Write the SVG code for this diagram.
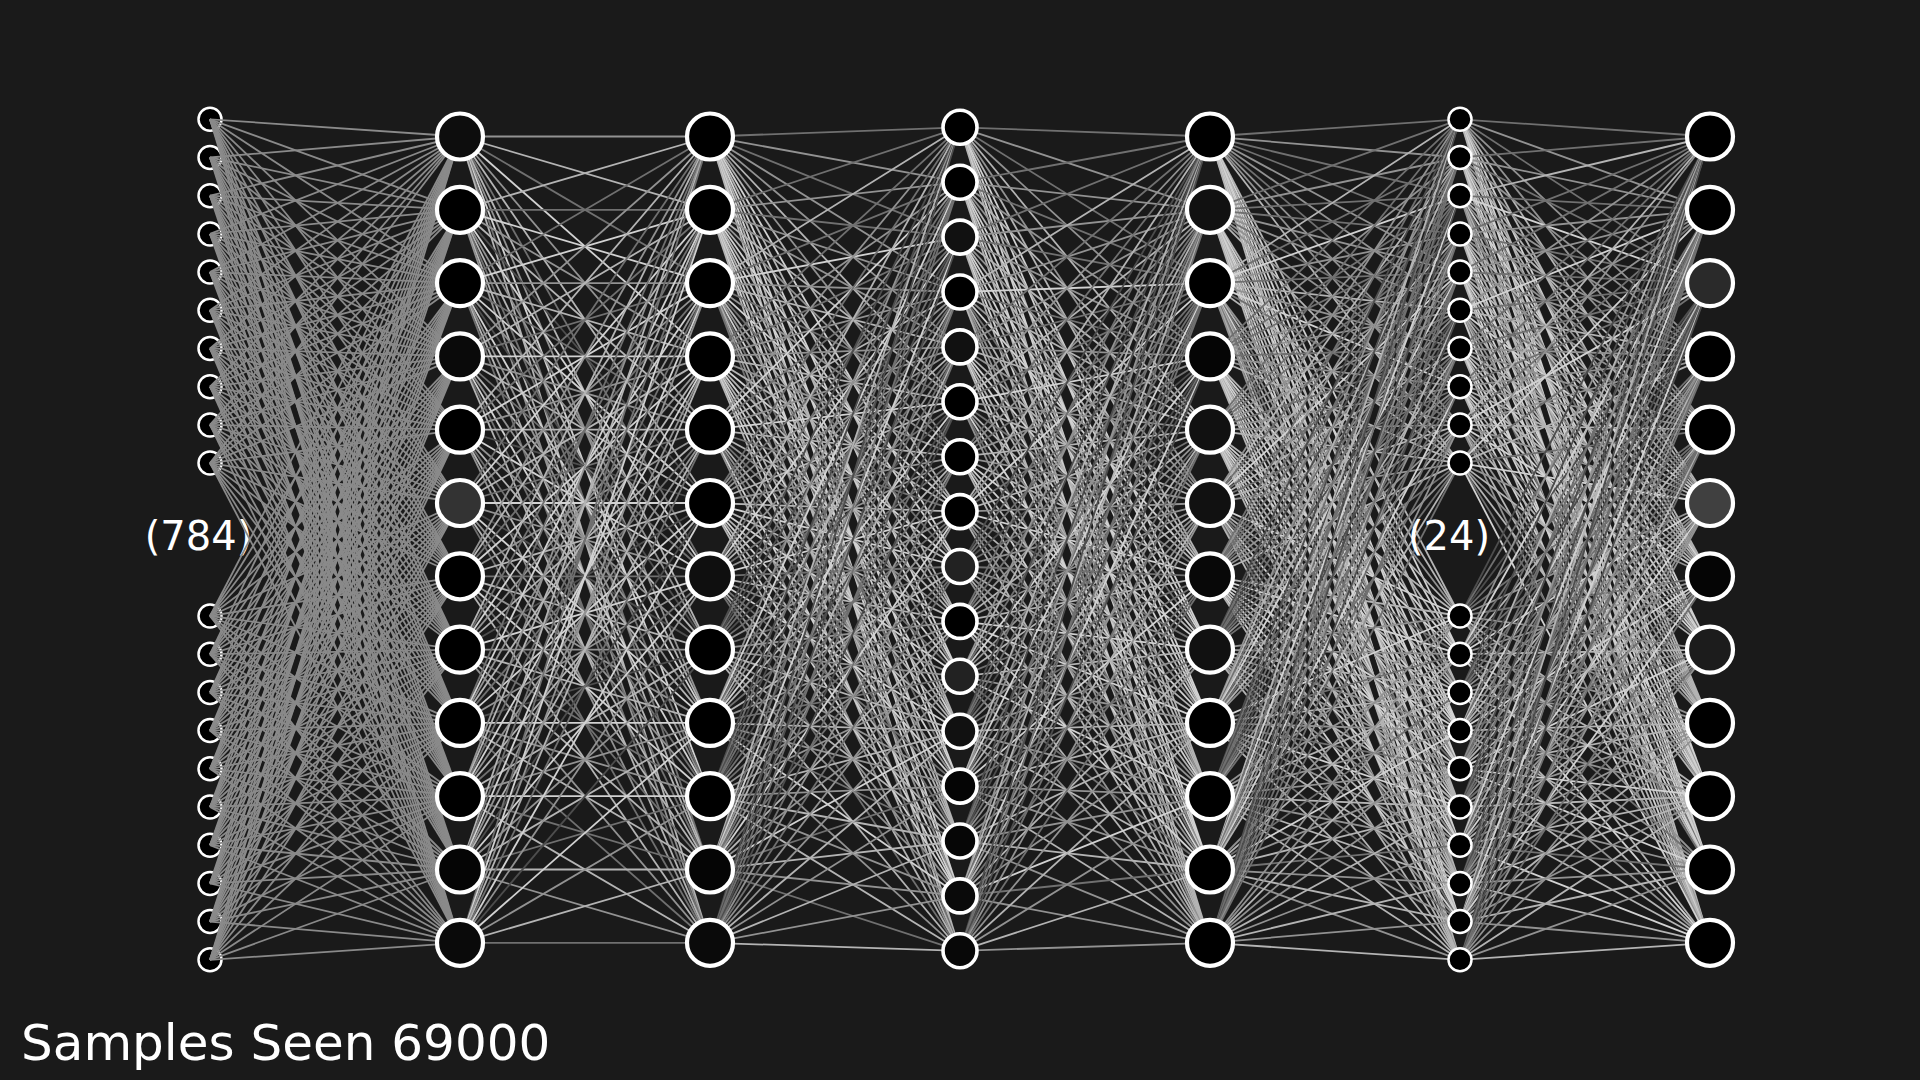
<svg xmlns="http://www.w3.org/2000/svg" width="1920" height="1080" viewBox="0 0 1920 1080">
<style>
line{vector-effect:non-scaling-stroke;stroke-width:1.8;fill:none}
.c0{stroke:#8a8a8a}.c1{stroke:#4d4d4d}.c2{stroke:#707070}.c3{stroke:#929292}.c4{stroke:#b4b4b4}.c5{stroke:#d2d2d2}
.s{stroke:#fff;stroke-width:2.5}
.m{stroke:#fff;stroke-width:3.6}
.b{stroke:#fff;stroke-width:4.2}
text{font-family:"DejaVu Sans","Liberation Sans",sans-serif;fill:#fff}
</style>
<defs>
<g id="f12" class="c0"><line x2="250" y2="136.5"/><line x2="250" y2="209.8"/><line x2="250" y2="283.1"/><line x2="250" y2="356.4"/><line x2="250" y2="429.7"/><line x2="250" y2="503"/><line x2="250" y2="576.3"/><line x2="250" y2="649.6"/><line x2="250" y2="722.9"/><line x2="250" y2="796.2"/><line x2="250" y2="869.5"/><line x2="250" y2="942.8"/></g>
<g id="f23a"><line class="c3" x2="250" y2="136.5"/><line class="c4" x2="250" y2="209.8"/><line class="c2" x2="250" y2="283.1"/><line class="c5" x2="250" y2="356.4"/><line class="c3" x2="250" y2="429.7"/><line class="c4" x2="250" y2="503"/><line class="c2" x2="250" y2="576.3"/><line class="c4" x2="250" y2="649.6"/><line class="c3" x2="250" y2="722.9"/><line class="c5" x2="250" y2="796.2"/><line class="c2" x2="250" y2="869.5"/><line class="c4" x2="250" y2="942.8"/></g>
<g id="f23b"><line class="c4" x2="250" y2="136.5"/><line class="c2" x2="250" y2="209.8"/><line class="c5" x2="250" y2="283.1"/><line class="c3" x2="250" y2="356.4"/><line class="c4" x2="250" y2="429.7"/><line class="c1" x2="250" y2="503"/><line class="c5" x2="250" y2="576.3"/><line class="c3" x2="250" y2="649.6"/><line class="c4" x2="250" y2="722.9"/><line class="c2" x2="250" y2="796.2"/><line class="c4" x2="250" y2="869.5"/><line class="c3" x2="250" y2="942.8"/></g>
<g id="f23c"><line class="c2" x2="250" y2="136.5"/><line class="c5" x2="250" y2="209.8"/><line class="c3" x2="250" y2="283.1"/><line class="c4" x2="250" y2="356.4"/><line class="c2" x2="250" y2="429.7"/><line class="c5" x2="250" y2="503"/><line class="c3" x2="250" y2="576.3"/><line class="c1" x2="250" y2="649.6"/><line class="c5" x2="250" y2="722.9"/><line class="c3" x2="250" y2="796.2"/><line class="c4" x2="250" y2="869.5"/><line class="c2" x2="250" y2="942.8"/></g>
<g id="f34a"><line class="c2" x2="250" y2="127.3"/><line class="c3" x2="250" y2="182.2"/><line class="c2" x2="250" y2="237.1"/><line class="c3" x2="250" y2="292"/><line class="c3" x2="250" y2="346.9"/><line class="c4" x2="250" y2="401.8"/><line class="c3" x2="250" y2="456.7"/><line class="c4" x2="250" y2="511.6"/><line class="c5" x2="250" y2="566.5"/><line class="c4" x2="250" y2="621.4"/><line class="c5" x2="250" y2="676.3"/><line class="c4" x2="250" y2="731.2"/><line class="c5" x2="250" y2="786.1"/><line class="c4" x2="250" y2="841"/><line class="c5" x2="250" y2="895.9"/><line class="c4" x2="250" y2="950.8"/></g>
<g id="f34b"><line class="c4" x2="250" y2="127.3"/><line class="c2" x2="250" y2="182.2"/><line class="c5" x2="250" y2="237.1"/><line class="c3" x2="250" y2="292"/><line class="c4" x2="250" y2="346.9"/><line class="c2" x2="250" y2="401.8"/><line class="c3" x2="250" y2="456.7"/><line class="c5" x2="250" y2="511.6"/><line class="c2" x2="250" y2="566.5"/><line class="c4" x2="250" y2="621.4"/><line class="c3" x2="250" y2="676.3"/><line class="c5" x2="250" y2="731.2"/><line class="c2" x2="250" y2="786.1"/><line class="c4" x2="250" y2="841"/><line class="c3" x2="250" y2="895.9"/><line class="c2" x2="250" y2="950.8"/></g>
<g id="f34c"><line class="c3" x2="250" y2="127.3"/><line class="c5" x2="250" y2="182.2"/><line class="c2" x2="250" y2="237.1"/><line class="c4" x2="250" y2="292"/><line class="c3" x2="250" y2="346.9"/><line class="c5" x2="250" y2="401.8"/><line class="c4" x2="250" y2="456.7"/><line class="c2" x2="250" y2="511.6"/><line class="c4" x2="250" y2="566.5"/><line class="c3" x2="250" y2="621.4"/><line class="c2" x2="250" y2="676.3"/><line class="c4" x2="250" y2="731.2"/><line class="c3" x2="250" y2="786.1"/><line class="c2" x2="250" y2="841"/><line class="c5" x2="250" y2="895.9"/><line class="c3" x2="250" y2="950.8"/></g>
<g id="f34d"><line class="c1" x2="250" y2="127.3"/><line class="c2" x2="250" y2="182.2"/><line class="c1" x2="250" y2="237.1"/><line class="c2" x2="250" y2="292"/><line class="c2" x2="250" y2="346.9"/><line class="c1" x2="250" y2="401.8"/><line class="c2" x2="250" y2="456.7"/><line class="c3" x2="250" y2="511.6"/><line class="c2" x2="250" y2="566.5"/><line class="c3" x2="250" y2="621.4"/><line class="c3" x2="250" y2="676.3"/><line class="c4" x2="250" y2="731.2"/><line class="c3" x2="250" y2="786.1"/><line class="c4" x2="250" y2="841"/><line class="c3" x2="250" y2="895.9"/><line class="c4" x2="250" y2="950.8"/></g>
<g id="f45a"><line class="c2" x2="250" y2="136.5"/><line class="c3" x2="250" y2="209.8"/><line class="c2" x2="250" y2="283.1"/><line class="c3" x2="250" y2="356.4"/><line class="c4" x2="250" y2="429.7"/><line class="c3" x2="250" y2="503"/><line class="c4" x2="250" y2="576.3"/><line class="c5" x2="250" y2="649.6"/><line class="c5" x2="250" y2="722.9"/><line class="c4" x2="250" y2="796.2"/><line class="c5" x2="250" y2="869.5"/><line class="c4" x2="250" y2="942.8"/></g>
<g id="f45b"><line class="c4" x2="250" y2="136.5"/><line class="c3" x2="250" y2="209.8"/><line class="c5" x2="250" y2="283.1"/><line class="c2" x2="250" y2="356.4"/><line class="c4" x2="250" y2="429.7"/><line class="c3" x2="250" y2="503"/><line class="c5" x2="250" y2="576.3"/><line class="c2" x2="250" y2="649.6"/><line class="c4" x2="250" y2="722.9"/><line class="c3" x2="250" y2="796.2"/><line class="c3" x2="250" y2="869.5"/><line class="c4" x2="250" y2="942.8"/></g>
<g id="f45c"><line class="c3" x2="250" y2="136.5"/><line class="c4" x2="250" y2="209.8"/><line class="c2" x2="250" y2="283.1"/><line class="c5" x2="250" y2="356.4"/><line class="c3" x2="250" y2="429.7"/><line class="c4" x2="250" y2="503"/><line class="c2" x2="250" y2="576.3"/><line class="c4" x2="250" y2="649.6"/><line class="c3" x2="250" y2="722.9"/><line class="c5" x2="250" y2="796.2"/><line class="c2" x2="250" y2="869.5"/><line class="c3" x2="250" y2="942.8"/></g>
<g id="f45d"><line class="c1" x2="250" y2="136.5"/><line class="c2" x2="250" y2="209.8"/><line class="c2" x2="250" y2="283.1"/><line class="c1" x2="250" y2="356.4"/><line class="c2" x2="250" y2="429.7"/><line class="c3" x2="250" y2="503"/><line class="c2" x2="250" y2="576.3"/><line class="c3" x2="250" y2="649.6"/><line class="c4" x2="250" y2="722.9"/><line class="c3" x2="250" y2="796.2"/><line class="c4" x2="250" y2="869.5"/><line class="c3" x2="250" y2="942.8"/></g>
<g id="f56a"><line class="c2" x2="250" y2="119.3"/><line class="c3" x2="250" y2="157.5"/><line class="c2" x2="250" y2="195.7"/><line class="c2" x2="250" y2="233.9"/><line class="c3" x2="250" y2="272.1"/><line class="c3" x2="250" y2="310.3"/><line class="c2" x2="250" y2="348.5"/><line class="c3" x2="250" y2="386.7"/><line class="c3" x2="250" y2="424.9"/><line class="c4" x2="250" y2="463.1"/><line class="c4" x2="250" y2="616"/><line class="c5" x2="250" y2="654.2"/><line class="c4" x2="250" y2="692.4"/><line class="c5" x2="250" y2="730.6"/><line class="c5" x2="250" y2="768.8"/><line class="c4" x2="250" y2="807"/><line class="c5" x2="250" y2="845.2"/><line class="c4" x2="250" y2="883.4"/><line class="c5" x2="250" y2="921.6"/><line class="c4" x2="250" y2="959.8"/></g>
<g id="f56b"><line class="c4" x2="250" y2="119.3"/><line class="c2" x2="250" y2="157.5"/><line class="c5" x2="250" y2="195.7"/><line class="c3" x2="250" y2="233.9"/><line class="c2" x2="250" y2="272.1"/><line class="c4" x2="250" y2="310.3"/><line class="c3" x2="250" y2="348.5"/><line class="c5" x2="250" y2="386.7"/><line class="c2" x2="250" y2="424.9"/><line class="c4" x2="250" y2="463.1"/><line class="c3" x2="250" y2="616"/><line class="c4" x2="250" y2="654.2"/><line class="c2" x2="250" y2="692.4"/><line class="c5" x2="250" y2="730.6"/><line class="c3" x2="250" y2="768.8"/><line class="c4" x2="250" y2="807"/><line class="c2" x2="250" y2="845.2"/><line class="c3" x2="250" y2="883.4"/><line class="c4" x2="250" y2="921.6"/><line class="c3" x2="250" y2="959.8"/></g>
<g id="f56c"><line class="c3" x2="250" y2="119.3"/><line class="c4" x2="250" y2="157.5"/><line class="c2" x2="250" y2="195.7"/><line class="c4" x2="250" y2="233.9"/><line class="c5" x2="250" y2="272.1"/><line class="c2" x2="250" y2="310.3"/><line class="c4" x2="250" y2="348.5"/><line class="c2" x2="250" y2="386.7"/><line class="c4" x2="250" y2="424.9"/><line class="c3" x2="250" y2="463.1"/><line class="c5" x2="250" y2="616"/><line class="c2" x2="250" y2="654.2"/><line class="c4" x2="250" y2="692.4"/><line class="c3" x2="250" y2="730.6"/><line class="c2" x2="250" y2="768.8"/><line class="c5" x2="250" y2="807"/><line class="c3" x2="250" y2="845.2"/><line class="c4" x2="250" y2="883.4"/><line class="c2" x2="250" y2="921.6"/><line class="c4" x2="250" y2="959.8"/></g>
<g id="f56d"><line class="c1" x2="250" y2="119.3"/><line class="c2" x2="250" y2="157.5"/><line class="c1" x2="250" y2="195.7"/><line class="c2" x2="250" y2="233.9"/><line class="c2" x2="250" y2="272.1"/><line class="c1" x2="250" y2="310.3"/><line class="c2" x2="250" y2="348.5"/><line class="c2" x2="250" y2="386.7"/><line class="c3" x2="250" y2="424.9"/><line class="c2" x2="250" y2="463.1"/><line class="c3" x2="250" y2="616"/><line class="c3" x2="250" y2="654.2"/><line class="c4" x2="250" y2="692.4"/><line class="c3" x2="250" y2="730.6"/><line class="c3" x2="250" y2="768.8"/><line class="c4" x2="250" y2="807"/><line class="c3" x2="250" y2="845.2"/><line class="c4" x2="250" y2="883.4"/><line class="c3" x2="250" y2="921.6"/><line class="c4" x2="250" y2="959.8"/></g>
<g id="f67a"><line class="c2" x2="250" y2="136.5"/><line class="c3" x2="250" y2="209.8"/><line class="c2" x2="250" y2="283.1"/><line class="c3" x2="250" y2="356.4"/><line class="c3" x2="250" y2="429.7"/><line class="c4" x2="250" y2="503"/><line class="c4" x2="250" y2="576.3"/><line class="c5" x2="250" y2="649.6"/><line class="c4" x2="250" y2="722.9"/><line class="c5" x2="250" y2="796.2"/><line class="c5" x2="250" y2="869.5"/><line class="c4" x2="250" y2="942.8"/></g>
<g id="f67b"><line class="c4" x2="250" y2="136.5"/><line class="c2" x2="250" y2="209.8"/><line class="c5" x2="250" y2="283.1"/><line class="c3" x2="250" y2="356.4"/><line class="c4" x2="250" y2="429.7"/><line class="c3" x2="250" y2="503"/><line class="c5" x2="250" y2="576.3"/><line class="c2" x2="250" y2="649.6"/><line class="c4" x2="250" y2="722.9"/><line class="c3" x2="250" y2="796.2"/><line class="c4" x2="250" y2="869.5"/><line class="c3" x2="250" y2="942.8"/></g>
<g id="f67c"><line class="c3" x2="250" y2="136.5"/><line class="c5" x2="250" y2="209.8"/><line class="c2" x2="250" y2="283.1"/><line class="c4" x2="250" y2="356.4"/><line class="c2" x2="250" y2="429.7"/><line class="c5" x2="250" y2="503"/><line class="c3" x2="250" y2="576.3"/><line class="c4" x2="250" y2="649.6"/><line class="c3" x2="250" y2="722.9"/><line class="c4" x2="250" y2="796.2"/><line class="c2" x2="250" y2="869.5"/><line class="c5" x2="250" y2="942.8"/></g>
<g id="f67d"><line class="c1" x2="250" y2="136.5"/><line class="c2" x2="250" y2="209.8"/><line class="c1" x2="250" y2="283.1"/><line class="c2" x2="250" y2="356.4"/><line class="c2" x2="250" y2="429.7"/><line class="c3" x2="250" y2="503"/><line class="c2" x2="250" y2="576.3"/><line class="c3" x2="250" y2="649.6"/><line class="c3" x2="250" y2="722.9"/><line class="c4" x2="250" y2="796.2"/><line class="c3" x2="250" y2="869.5"/><line class="c4" x2="250" y2="942.8"/></g>
</defs>
<rect width="1920" height="1080" fill="#1a1a1a"/>
<g id="layer1">
<circle class="s" cx="210" cy="119.3" r="11.5"/><circle class="s" cx="210" cy="157.5" r="11.5"/><circle class="s" cx="210" cy="195.7" r="11.5"/><circle class="s" cx="210" cy="233.9" r="11.5"/><circle class="s" cx="210" cy="272.1" r="11.5"/><circle class="s" cx="210" cy="310.3" r="11.5"/><circle class="s" cx="210" cy="348.5" r="11.5"/><circle class="s" cx="210" cy="386.7" r="11.5"/><circle class="s" cx="210" cy="424.9" r="11.5"/><circle class="s" cx="210" cy="463.1" r="11.5"/>
<circle class="s" cx="210" cy="616" r="11.5"/><circle class="s" cx="210" cy="654.2" r="11.5"/><circle class="s" cx="210" cy="692.4" r="11.5"/><circle class="s" cx="210" cy="730.6" r="11.5"/><circle class="s" cx="210" cy="768.8" r="11.5"/><circle class="s" cx="210" cy="807" r="11.5"/><circle class="s" cx="210" cy="845.2" r="11.5"/><circle class="s" cx="210" cy="883.4" r="11.5"/><circle class="s" cx="210" cy="921.6" r="11.5"/><circle class="s" cx="210" cy="959.8" r="11.5"/>
<text x="198.5" y="550" font-size="40" text-anchor="middle">(784)</text>
</g>
<g id="connectors">
<use href="#f12" transform="matrix(1 -0.4772 0 1 210 119.3)"/><use href="#f12" transform="matrix(1 -0.63 0 1 210 157.5)"/><use href="#f12" transform="matrix(1 -0.7828 0 1 210 195.7)"/><use href="#f12" transform="matrix(1 -0.9356 0 1 210 233.9)"/><use href="#f12" transform="matrix(1 -1.0884 0 1 210 272.1)"/><use href="#f12" transform="matrix(1 -1.2412 0 1 210 310.3)"/><use href="#f12" transform="matrix(1 -1.394 0 1 210 348.5)"/><use href="#f12" transform="matrix(1 -1.5468 0 1 210 386.7)"/><use href="#f12" transform="matrix(1 -1.6996 0 1 210 424.9)"/><use href="#f12" transform="matrix(1 -1.8524 0 1 210 463.1)"/>
<use href="#f12" transform="matrix(1 -2.464 0 1 210 616)"/><use href="#f12" transform="matrix(1 -2.6168 0 1 210 654.2)"/><use href="#f12" transform="matrix(1 -2.7696 0 1 210 692.4)"/><use href="#f12" transform="matrix(1 -2.9224 0 1 210 730.6)"/><use href="#f12" transform="matrix(1 -3.0752 0 1 210 768.8)"/><use href="#f12" transform="matrix(1 -3.228 0 1 210 807)"/><use href="#f12" transform="matrix(1 -3.3808 0 1 210 845.2)"/><use href="#f12" transform="matrix(1 -3.5336 0 1 210 883.4)"/><use href="#f12" transform="matrix(1 -3.6864 0 1 210 921.6)"/><use href="#f12" transform="matrix(1 -3.8392 0 1 210 959.8)"/>
<use href="#f23a" transform="matrix(1 -0.546 0 1 460 136.5)"/><use href="#f23b" transform="matrix(1 -0.8392 0 1 460 209.8)"/><use href="#f23c" transform="matrix(1 -1.1324 0 1 460 283.1)"/><use href="#f23a" transform="matrix(1 -1.4256 0 1 460 356.4)"/><use href="#f23b" transform="matrix(1 -1.7188 0 1 460 429.7)"/><use href="#f23c" transform="matrix(1 -2.012 0 1 460 503)"/><use href="#f23a" transform="matrix(1 -2.3052 0 1 460 576.3)"/><use href="#f23b" transform="matrix(1 -2.5984 0 1 460 649.6)"/><use href="#f23c" transform="matrix(1 -2.8916 0 1 460 722.9)"/><use href="#f23a" transform="matrix(1 -3.1848 0 1 460 796.2)"/><use href="#f23b" transform="matrix(1 -3.478 0 1 460 869.5)"/><use href="#f23c" transform="matrix(1 -3.7712 0 1 460 942.8)"/>
<use href="#f34a" transform="matrix(1 -0.546 0 1 710 136.5)"/><use href="#f34a" transform="matrix(1 -0.8392 0 1 710 209.8)"/><use href="#f34b" transform="matrix(1 -1.1324 0 1 710 283.1)"/><use href="#f34a" transform="matrix(1 -1.4256 0 1 710 356.4)"/><use href="#f34c" transform="matrix(1 -1.7188 0 1 710 429.7)"/><use href="#f34a" transform="matrix(1 -2.012 0 1 710 503)"/><use href="#f34b" transform="matrix(1 -2.3052 0 1 710 576.3)"/><use href="#f34d" transform="matrix(1 -2.5984 0 1 710 649.6)"/><use href="#f34c" transform="matrix(1 -2.8916 0 1 710 722.9)"/><use href="#f34d" transform="matrix(1 -3.1848 0 1 710 796.2)"/><use href="#f34b" transform="matrix(1 -3.478 0 1 710 869.5)"/><use href="#f34d" transform="matrix(1 -3.7712 0 1 710 942.8)"/>
<use href="#f45a" transform="matrix(1 -0.5092 0 1 960 127.3)"/><use href="#f45a" transform="matrix(1 -0.7288 0 1 960 182.2)"/><use href="#f45a" transform="matrix(1 -0.9484 0 1 960 237.1)"/><use href="#f45b" transform="matrix(1 -1.168 0 1 960 292)"/><use href="#f45a" transform="matrix(1 -1.3876 0 1 960 346.9)"/><use href="#f45c" transform="matrix(1 -1.6072 0 1 960 401.8)"/><use href="#f45a" transform="matrix(1 -1.8268 0 1 960 456.7)"/><use href="#f45b" transform="matrix(1 -2.0464 0 1 960 511.6)"/><use href="#f45d" transform="matrix(1 -2.266 0 1 960 566.5)"/><use href="#f45a" transform="matrix(1 -2.4856 0 1 960 621.4)"/><use href="#f45c" transform="matrix(1 -2.7052 0 1 960 676.3)"/><use href="#f45d" transform="matrix(1 -2.9248 0 1 960 731.2)"/><use href="#f45b" transform="matrix(1 -3.1444 0 1 960 786.1)"/><use href="#f45d" transform="matrix(1 -3.364 0 1 960 841)"/><use href="#f45c" transform="matrix(1 -3.5836 0 1 960 895.9)"/><use href="#f45d" transform="matrix(1 -3.8032 0 1 960 950.8)"/>
<use href="#f56a" transform="matrix(1 -0.546 0 1 1210 136.5)"/><use href="#f56a" transform="matrix(1 -0.8392 0 1 1210 209.8)"/><use href="#f56b" transform="matrix(1 -1.1324 0 1 1210 283.1)"/><use href="#f56a" transform="matrix(1 -1.4256 0 1 1210 356.4)"/><use href="#f56a" transform="matrix(1 -1.7188 0 1 1210 429.7)"/><use href="#f56c" transform="matrix(1 -2.012 0 1 1210 503)"/><use href="#f56a" transform="matrix(1 -2.3052 0 1 1210 576.3)"/><use href="#f56d" transform="matrix(1 -2.5984 0 1 1210 649.6)"/><use href="#f56c" transform="matrix(1 -2.8916 0 1 1210 722.9)"/><use href="#f56d" transform="matrix(1 -3.1848 0 1 1210 796.2)"/><use href="#f56b" transform="matrix(1 -3.478 0 1 1210 869.5)"/><use href="#f56d" transform="matrix(1 -3.7712 0 1 1210 942.8)"/>
<use href="#f67a" transform="matrix(1 -0.4772 0 1 1460 119.3)"/><use href="#f67a" transform="matrix(1 -0.63 0 1 1460 157.5)"/><use href="#f67b" transform="matrix(1 -0.7828 0 1 1460 195.7)"/><use href="#f67a" transform="matrix(1 -0.9356 0 1 1460 233.9)"/><use href="#f67a" transform="matrix(1 -1.0884 0 1 1460 272.1)"/><use href="#f67c" transform="matrix(1 -1.2412 0 1 1460 310.3)"/><use href="#f67a" transform="matrix(1 -1.394 0 1 1460 348.5)"/><use href="#f67a" transform="matrix(1 -1.5468 0 1 1460 386.7)"/><use href="#f67b" transform="matrix(1 -1.6996 0 1 1460 424.9)"/><use href="#f67c" transform="matrix(1 -1.8524 0 1 1460 463.1)"/>
<use href="#f67d" transform="matrix(1 -2.464 0 1 1460 616)"/><use href="#f67c" transform="matrix(1 -2.6168 0 1 1460 654.2)"/><use href="#f67d" transform="matrix(1 -2.7696 0 1 1460 692.4)"/><use href="#f67b" transform="matrix(1 -2.9224 0 1 1460 730.6)"/><use href="#f67a" transform="matrix(1 -3.0752 0 1 1460 768.8)"/><use href="#f67d" transform="matrix(1 -3.228 0 1 1460 807)"/><use href="#f67c" transform="matrix(1 -3.3808 0 1 1460 845.2)"/><use href="#f67d" transform="matrix(1 -3.5336 0 1 1460 883.4)"/><use href="#f67b" transform="matrix(1 -3.6864 0 1 1460 921.6)"/><use href="#f67d" transform="matrix(1 -3.8392 0 1 1460 959.8)"/>
</g>
<g id="layer2">
<circle class="b" cx="460" cy="136.5" r="23" fill="#0d0d0d"/><circle class="b" cx="460" cy="209.8" r="23" fill="#000"/><circle class="b" cx="460" cy="283.1" r="23" fill="#000"/><circle class="b" cx="460" cy="356.4" r="23" fill="#0a0a0a"/><circle class="b" cx="460" cy="429.7" r="23" fill="#000"/><circle class="b" cx="460" cy="503" r="23" fill="#333"/><circle class="b" cx="460" cy="576.3" r="23" fill="#000"/><circle class="b" cx="460" cy="649.6" r="23" fill="#000"/><circle class="b" cx="460" cy="722.9" r="23" fill="#000"/><circle class="b" cx="460" cy="796.2" r="23" fill="#000"/><circle class="b" cx="460" cy="869.5" r="23" fill="#050505"/><circle class="b" cx="460" cy="942.8" r="23" fill="#0a0a0a"/>
</g>
<g id="layer3">
<circle class="b" cx="710" cy="136.5" r="23" fill="#000"/><circle class="b" cx="710" cy="209.8" r="23" fill="#000"/><circle class="b" cx="710" cy="283.1" r="23" fill="#000"/><circle class="b" cx="710" cy="356.4" r="23" fill="#000"/><circle class="b" cx="710" cy="429.7" r="23" fill="#000"/><circle class="b" cx="710" cy="503" r="23" fill="#000"/><circle class="b" cx="710" cy="576.3" r="23" fill="#0f0f0f"/><circle class="b" cx="710" cy="649.6" r="23" fill="#000"/><circle class="b" cx="710" cy="722.9" r="23" fill="#000"/><circle class="b" cx="710" cy="796.2" r="23" fill="#000"/><circle class="b" cx="710" cy="869.5" r="23" fill="#050505"/><circle class="b" cx="710" cy="942.8" r="23" fill="#0a0a0a"/>
</g>
<g id="layer4">
<circle class="m" cx="960" cy="127.3" r="17" fill="#000"/><circle class="m" cx="960" cy="182.2" r="17" fill="#000"/><circle class="m" cx="960" cy="237.1" r="17" fill="#111"/><circle class="m" cx="960" cy="292" r="17" fill="#000"/><circle class="m" cx="960" cy="346.9" r="17" fill="#111"/><circle class="m" cx="960" cy="401.8" r="17" fill="#000"/><circle class="m" cx="960" cy="456.7" r="17" fill="#000"/><circle class="m" cx="960" cy="511.6" r="17" fill="#000"/><circle class="m" cx="960" cy="566.5" r="17" fill="#222"/><circle class="m" cx="960" cy="621.4" r="17" fill="#000"/><circle class="m" cx="960" cy="676.3" r="17" fill="#222"/><circle class="m" cx="960" cy="731.2" r="17" fill="#111"/><circle class="m" cx="960" cy="786.1" r="17" fill="#050505"/><circle class="m" cx="960" cy="841" r="17" fill="#060606"/><circle class="m" cx="960" cy="895.9" r="17" fill="#0a0a0a"/><circle class="m" cx="960" cy="950.8" r="17" fill="#080808"/>
</g>
<g id="layer5">
<circle class="b" cx="1210" cy="136.5" r="23" fill="#000"/><circle class="b" cx="1210" cy="209.8" r="23" fill="#111"/><circle class="b" cx="1210" cy="283.1" r="23" fill="#000"/><circle class="b" cx="1210" cy="356.4" r="23" fill="#050505"/><circle class="b" cx="1210" cy="429.7" r="23" fill="#111"/><circle class="b" cx="1210" cy="503" r="23" fill="#111"/><circle class="b" cx="1210" cy="576.3" r="23" fill="#080808"/><circle class="b" cx="1210" cy="649.6" r="23" fill="#111"/><circle class="b" cx="1210" cy="722.9" r="23" fill="#000"/><circle class="b" cx="1210" cy="796.2" r="23" fill="#000"/><circle class="b" cx="1210" cy="869.5" r="23" fill="#000"/><circle class="b" cx="1210" cy="942.8" r="23" fill="#000"/>
</g>
<g id="layer6">
<circle class="s" cx="1460" cy="119.3" r="11.5" fill="#000"/><circle class="s" cx="1460" cy="157.5" r="11.5" fill="#000"/><circle class="s" cx="1460" cy="195.7" r="11.5" fill="#000"/><circle class="s" cx="1460" cy="233.9" r="11.5" fill="#000"/><circle class="s" cx="1460" cy="272.1" r="11.5" fill="#000"/><circle class="s" cx="1460" cy="310.3" r="11.5" fill="#000"/><circle class="s" cx="1460" cy="348.5" r="11.5" fill="#000"/><circle class="s" cx="1460" cy="386.7" r="11.5" fill="#000"/><circle class="s" cx="1460" cy="424.9" r="11.5" fill="#000"/><circle class="s" cx="1460" cy="463.1" r="11.5" fill="#000"/>
<circle class="s" cx="1460" cy="616" r="11.5" fill="#000"/><circle class="s" cx="1460" cy="654.2" r="11.5" fill="#000"/><circle class="s" cx="1460" cy="692.4" r="11.5" fill="#000"/><circle class="s" cx="1460" cy="730.6" r="11.5" fill="#000"/><circle class="s" cx="1460" cy="768.8" r="11.5" fill="#000"/><circle class="s" cx="1460" cy="807" r="11.5" fill="#000"/><circle class="s" cx="1460" cy="845.2" r="11.5" fill="#000"/><circle class="s" cx="1460" cy="883.4" r="11.5" fill="#000"/><circle class="s" cx="1460" cy="921.6" r="11.5" fill="#000"/><circle class="s" cx="1460" cy="959.8" r="11.5" fill="#000"/>
<text x="1449" y="550" font-size="40" text-anchor="middle">(24)</text>
</g>
<g id="layer7">
<circle class="b" cx="1710" cy="136.5" r="23" fill="#000"/><circle class="b" cx="1710" cy="209.8" r="23" fill="#000"/><circle class="b" cx="1710" cy="283.1" r="23" fill="#2a2a2a"/><circle class="b" cx="1710" cy="356.4" r="23" fill="#000"/><circle class="b" cx="1710" cy="429.7" r="23" fill="#000"/><circle class="b" cx="1710" cy="503" r="23" fill="#404040"/><circle class="b" cx="1710" cy="576.3" r="23" fill="#050505"/><circle class="b" cx="1710" cy="649.6" r="23" fill="#1c1c1c"/><circle class="b" cx="1710" cy="722.9" r="23" fill="#000"/><circle class="b" cx="1710" cy="796.2" r="23" fill="#000"/><circle class="b" cx="1710" cy="869.5" r="23" fill="#000"/><circle class="b" cx="1710" cy="942.8" r="23" fill="#000"/>
</g>
<text id="caption" x="21" y="1060" font-size="50">Samples Seen 69000</text>
</svg>
